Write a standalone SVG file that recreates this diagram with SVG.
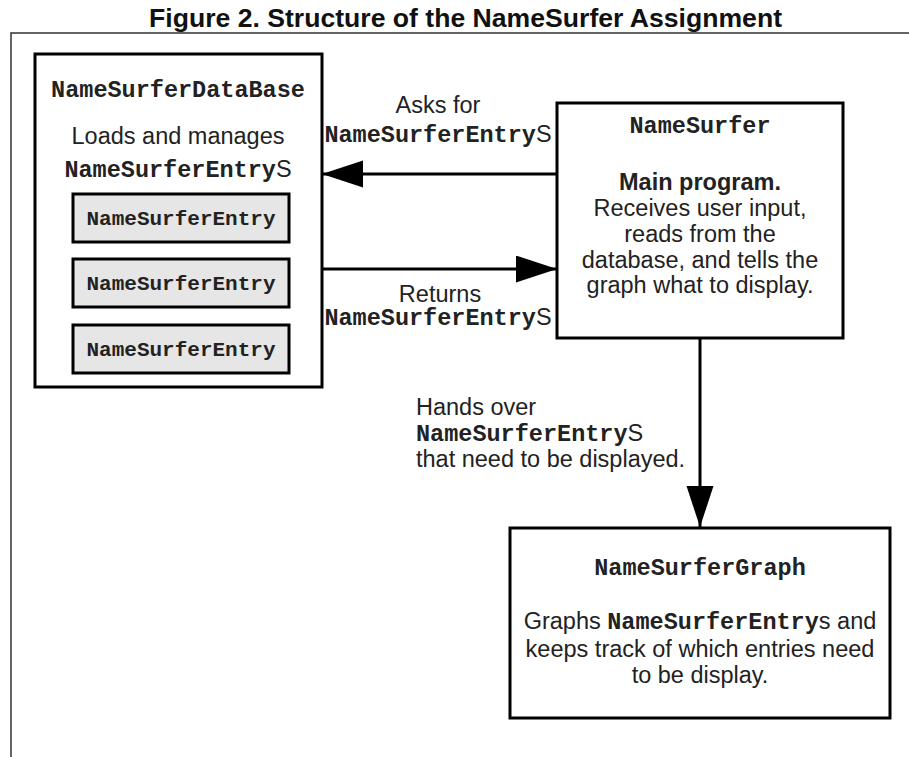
<svg xmlns="http://www.w3.org/2000/svg" width="909" height="757" viewBox="0 0 909 757">
<style>
  .box{fill:#fff;stroke:#000;stroke-width:3}
  .entry{fill:#e6e6e6;stroke:#000;stroke-width:3}
  .sans{font-family:"Liberation Sans",Arial,sans-serif;font-size:23.5px;fill:#222}
  .mono{font-family:"Liberation Mono","Courier New",monospace;font-weight:bold;font-size:23.5px;fill:#222}
  .monos{font-family:"Liberation Mono","Courier New",monospace;font-weight:bold;font-size:21px;fill:#222}
  .c{text-anchor:middle}
  .conn{stroke:#000;stroke-width:3;fill:none;marker-end:url(#ah)}
</style>
<defs>
  <marker id="ah" markerUnits="userSpaceOnUse" markerWidth="42" markerHeight="28" refX="41" refY="13.5" orient="auto">
    <path d="M0,0 L41,13.5 L0,27 z" fill="#000"/>
  </marker>
</defs>
<rect width="909" height="757" fill="#fff"/>
<text x="465.5" y="27" class="c" font-family="'Liberation Sans',Arial,sans-serif" font-weight="bold" font-size="25" fill="#111" textLength="633" lengthAdjust="spacingAndGlyphs">Figure 2. Structure of the NameSurfer Assignment</text>
<path d="M11,757 L11,33 L909,33" fill="none" stroke="#333" stroke-width="1.5"/>

<g id="database">
  <rect class="box" x="35" y="54" width="287" height="333"/>
  <text class="mono c" x="178" y="97">NameSurferDataBase</text>
  <text class="sans c" x="178" y="144">Loads and manages</text>
  <text class="c" x="178" y="177"><tspan class="mono">NameSurferEntry</tspan><tspan class="sans">S</tspan></text>
</g>
<g id="entry1">
  <rect class="entry" x="73" y="194" width="216" height="48"/>
  <text class="monos c" x="181" y="225">NameSurferEntry</text>
</g>
<g id="entry2">
  <rect class="entry" x="73" y="259" width="216" height="48"/>
  <text class="monos c" x="181" y="290">NameSurferEntry</text>
</g>
<g id="entry3">
  <rect class="entry" x="73" y="325" width="216" height="48"/>
  <text class="monos c" x="181" y="356">NameSurferEntry</text>
</g>

<g id="namesurfer">
  <rect class="box" x="557" y="103" width="286" height="235"/>
  <text class="mono c" x="700" y="133">NameSurfer</text>
  <text class="sans c" x="700" y="190" font-weight="bold">Main program.</text>
  <text class="sans c" x="700" y="216">Receives user input,</text>
  <text class="sans c" x="700" y="242">reads from the</text>
  <text class="sans c" x="700" y="268">database, and tells the</text>
  <text class="sans c" x="700" y="293">graph what to display.</text>
</g>

<g id="graph">
  <rect class="box" x="510" y="528" width="380" height="190"/>
  <text class="mono c" x="700" y="575">NameSurferGraph</text>
  <text class="c" x="700" y="629"><tspan class="sans">Graphs </tspan><tspan class="mono">NameSurferEntry</tspan><tspan class="sans">s and</tspan></text>
  <text class="sans c" x="700" y="657">keeps track of which entries need</text>
  <text class="sans c" x="700" y="683">to be display.</text>
</g>

<g id="connectors">
  <line class="conn" x1="557" y1="174" x2="322" y2="174"/>
  <line class="conn" x1="322" y1="269" x2="557" y2="269"/>
  <line class="conn" x1="700" y1="338" x2="700" y2="527"/>
  <text class="sans c" x="438" y="113">Asks for</text>
  <text class="c" x="438" y="142"><tspan class="mono">NameSurferEntry</tspan><tspan class="sans">S</tspan></text>
  <text class="sans c" x="440" y="302">Returns</text>
  <text class="c" x="438" y="325"><tspan class="mono">NameSurferEntry</tspan><tspan class="sans">S</tspan></text>
  <text class="sans" x="416" y="415">Hands over</text>
  <text x="416" y="441"><tspan class="mono">NameSurferEntry</tspan><tspan class="sans">S</tspan></text>
  <text class="sans" x="416" y="467">that need to be displayed.</text>
</g>
</svg>
